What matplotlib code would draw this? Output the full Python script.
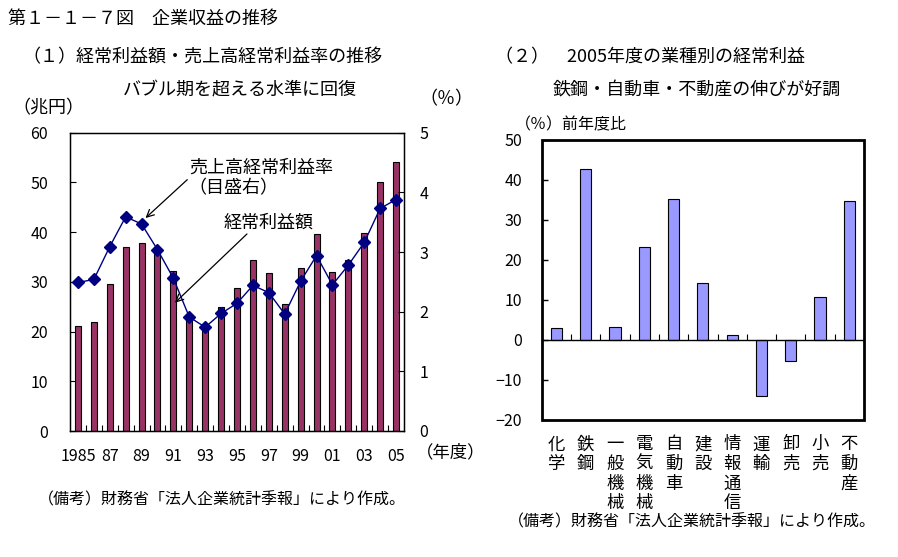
import matplotlib
matplotlib.use("Agg")
import matplotlib.pyplot as plt
from matplotlib.patches import Rectangle
from matplotlib.ticker import FixedLocator

plt.rcParams['font.family'] = ['Noto Sans CJK JP', 'DejaVu Sans']

# ---- data ----
years = list(range(1985, 2006))
year_labels = ['1985', '87', '89', '91', '93', '95', '97', '99', '01', '03', '05']
profit = [21.2, 21.9, 29.6, 37.1, 37.9, 36.9, 32.2, 23.5, 21.1, 24.9, 28.7,
          34.3, 31.7, 25.5, 32.8, 39.7, 31.9, 34.3, 39.9, 50.1, 54.2]
margin = [2.49, 2.54, 3.09, 3.59, 3.47, 3.04, 2.56, 1.91, 1.74, 1.97, 2.14,
          2.44, 2.32, 1.96, 2.51, 2.94, 2.45, 2.78, 3.16, 3.73, 3.88]

industries = ['化学', '鉄鋼', '一般機械', '電気機械', '自動車', '建設', '情報通信',
              '運輸', '卸売', '小売', '不動産']
growth = [2.9, 42.7, 3.2, 23.2, 35.2, 14.2, 1.2, -14.1, -5.3, 10.7, 34.7]

W, H = 898, 557
fig = plt.figure(figsize=(W / 100, H / 100), dpi=100)

def fx(x):
    return x / W

def fy(y):
    return 1 - y / H

def ax_rect(x0, y0, x1, y1):
    return [fx(x0), fy(y1), (x1 - x0) / W, (y1 - y0) / H]

CJK = 13
TICK = 11.5

# ---- titles ----
fig.text(fx(8), fy(19), '第１－１－７図　企業収益の推移', fontsize=CJK, va='center', ha='left')
fig.text(fx(22), fy(57), '（１）経常利益額・売上高経常利益率の推移', fontsize=CJK, va='center', ha='left')
fig.text(fx(240), fy(90), 'バブル期を超える水準に回復', fontsize=CJK, va='center', ha='center')
fig.text(fx(446), fy(99), '（％）', fontsize=CJK, va='center', ha='center')
fig.text(fx(48), fy(108), '（兆円）', fontsize=CJK, va='center', ha='center')
fig.text(fx(38), fy(500), '（備考）財務省「法人企業統計季報」により作成。', fontsize=11.5,
         va='center', ha='left')

fig.text(fx(495), fy(57), '（２）　2005年度の業種別の経常利益', fontsize=CJK, va='center', ha='left')
fig.text(fx(697), fy(90), '鉄鋼・自動車・不動産の伸びが好調', fontsize=CJK, va='center', ha='center')
fig.text(fx(515), fy(125), '（％）前年度比', fontsize=11.5, va='center', ha='left')
fig.text(fx(508), fy(522), '（備考）財務省「法人企業統計季報」により作成。', fontsize=11.5,
         va='center', ha='left')

# ---- left chart ----
ax = fig.add_axes(ax_rect(70, 132.7, 404, 431))
xpos = list(range(len(years)))
ax.bar(xpos, profit, width=0.38, color='#993366', edgecolor='black', linewidth=0.8, zorder=2)
ax.set_xlim(-0.5, len(years) - 0.5)
ax.set_ylim(0, 60)
ax.set_yticks(range(0, 61, 10))
ax.set_xticks(xpos[::2])
ax.set_xticklabels(year_labels)
ax.xaxis.set_minor_locator(FixedLocator([i + 0.5 for i in range(len(years) - 1)]))
ax.tick_params(axis='x', which='major', length=0, pad=12, labelsize=TICK)
ax.tick_params(axis='x', which='minor', direction='in', length=4, width=0.8)
ax.tick_params(axis='y', direction='in', length=4, width=0.8, pad=16, labelsize=TICK)
for s in ax.spines.values():
    s.set_linewidth(1.0)

ax2 = ax.twinx()
ax2.plot(xpos, margin, color='#000080', linewidth=1.0, marker='D', markersize=6,
         markerfacecolor='#000080', markeredgecolor='#000080', zorder=3)
ax2.set_ylim(0, 5)
ax2.set_yticks(range(0, 6))
ax2.tick_params(axis='y', direction='in', length=4, width=0.8, pad=11, labelsize=TICK)
ax.text(1.035, -0.07, '（年度）', transform=ax.transAxes, fontsize=CJK - 0.5,
        va='center', ha='left')

ax2.annotate('売上高経常利益率', xy=(4.25, 3.57), xytext=(11.5, 4.41),
             fontsize=CJK, ha='center', va='center',
             arrowprops=dict(arrowstyle='->', color='black', lw=0.9,
                             shrinkA=0, shrinkB=0, relpos=(0.01, 0.0)))
ax2.text(9.8, 4.07, '（目盛右）', fontsize=CJK, ha='center', va='center')
ax2.annotate('経常利益額', xy=(6.1, 2.15), xytext=(12.0, 3.5),
             fontsize=CJK, ha='center', va='center',
             arrowprops=dict(arrowstyle='->', color='black', lw=0.9,
                             shrinkA=0, shrinkB=0, relpos=(0.3, 0.05)))

# ---- right chart ----
bx = fig.add_axes(ax_rect(541.7, 140, 864, 420))
cpos = list(range(len(industries)))
bx.bar(cpos, growth, width=0.38, color='#9999FF', edgecolor='black', linewidth=0.8, zorder=2)
bx.set_xlim(-0.5, len(industries) - 0.5)
bx.set_ylim(-20, 50)
bx.set_yticks(range(-20, 51, 10))
for s in bx.spines.values():
    s.set_visible(False)
bx.spines['bottom'].set_visible(True)
bx.spines['bottom'].set_position(('data', 0))
bx.spines['bottom'].set_linewidth(1.0)
bx.add_patch(Rectangle((0, 0), 1, 1, transform=bx.transAxes, fill=False,
                       edgecolor='black', linewidth=2.0, zorder=5, clip_on=False))
bx.set_xticks(cpos)
bx.set_xticklabels([])
bx.xaxis.set_minor_locator(FixedLocator([i + 0.5 for i in range(len(industries) - 1)]))
bx.tick_params(axis='x', which='major', length=0)
bx.tick_params(axis='x', which='minor', direction='in', length=4, width=0.8)
bx.tick_params(axis='y', direction='in', length=4, width=1.0, pad=14, labelsize=TICK)
for i, name in enumerate(industries):
    bx.text(i, -0.055, '\n'.join(name), transform=bx.get_xaxis_transform(),
            fontsize=12.5, ha='center', va='top', linespacing=1.12)

fig.savefig('out.png', dpi=100, facecolor='white')
